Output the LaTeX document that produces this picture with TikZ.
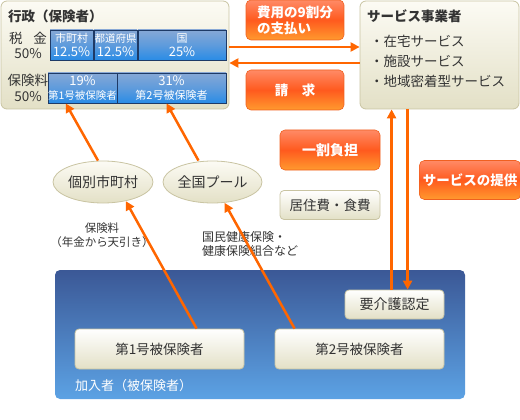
\documentclass[tikz,border=0pt]{standalone}
\usepackage{fontspec}
\setmainfont{Noto Sans CJK JP}
\usetikzlibrary{shapes.geometric,arrows.meta}
\definecolor{txt}{HTML}{333333}
\definecolor{arrowor}{HTML}{FF6600}
\definecolor{bgtop}{HTML}{FCFBF4}
\definecolor{bgbot}{HTML}{E3E0C6}
\definecolor{bgline}{HTML}{C9C4A2}
\definecolor{ortop}{HTML}{FF8A66}
\definecolor{ormid}{HTML}{FF5A1E}
\definecolor{orbot}{HTML}{FF9A2E}
\definecolor{orline}{HTML}{F06020}
\definecolor{celltop}{HTML}{86A8D6}
\definecolor{cellmid}{HTML}{5E9BDC}
\definecolor{cellbot}{HTML}{2A8CE6}
\definecolor{cellline}{HTML}{1E3A66}
\definecolor{bluetop}{HTML}{3B5896}
\definecolor{bluebot}{HTML}{5CA2E4}
\newcommand{\numsz}{\fontsize{13}{14}\selectfont}
\tikzset{
  panel/.style={draw=bgline, line width=0.8pt, rounded corners=6pt, top color=bgtop, bottom color=bgbot},
  beigebox/.style={draw=bgline, line width=0.8pt, rounded corners=4pt, top color=white, bottom color=bgbot, text=txt, font=\fontsize{13.5}{15}\selectfont},
  orangebox/.style={draw=orline, line width=0.6pt, rounded corners=5pt, top color=ortop, bottom color=orbot, middle color=ormid, text=white, font=\fontsize{13.5}{16}\selectfont\bfseries},
  cell/.style={draw=cellline, line width=0.8pt, top color=celltop, bottom color=cellbot, middle color=cellmid, text=white, align=center, inner sep=0pt, font=\fontsize{11}{14}\selectfont},
  oval/.style={ellipse, draw=bgline, line width=0.8pt, top color=bgtop, bottom color=bgbot, text=txt, font=\fontsize{14}{16}\selectfont, inner sep=0pt},
  arr/.style={draw=arrowor, line width=2.5pt, -{Triangle[length=9pt,width=9pt]}},
  lbl/.style={text=txt, inner sep=0pt},
}
\begin{document}
\begin{tikzpicture}[x=1pt,y=-1pt]
\useasboundingbox (0,0) rectangle (520,420);
% admin panel
\node[panel, minimum width=228pt, minimum height=108pt] (admin) at (115,55) {};
\node[lbl, anchor=west, font=\fontsize{13.5}{15}\selectfont\bfseries] (admt) at (8,16) {行政（保険者）};
\node[lbl, align=center, font=\fontsize{13.5}{15.5}\selectfont] (zei) at (28,45.5) {税\hspace{0.8em}金\\50\%};
\node[lbl, align=center, font=\fontsize{13.5}{15.5}\selectfont] (hok) at (28,88) {保険料\\50\%};
\node[cell, minimum width=43pt, minimum height=30pt] (c1) at (71.5,45) {市町村\\\numsz 12.5\%};
\node[cell, minimum width=43pt, minimum height=30pt, font=\fontsize{10.5}{14}\selectfont] (c2) at (115.5,45) {都道府県\\\numsz 12.5\%};
\node[cell, minimum width=88pt, minimum height=30pt] (c3) at (182,45) {国\\\numsz 25\%};
\node[cell, minimum width=65pt, minimum height=30pt] (c19) at (82.5,88) {{\numsz 19\%}\\\fontsize{10.5}{13}\selectfont 第1号被保険者};
\node[cell, minimum width=109pt, minimum height=30pt] (c31) at (171.5,88) {{\numsz 31\%}\\第2号被保険者};
% service provider
\node[panel, minimum width=159pt, minimum height=108pt] (serv) at (439.5,55) {};
\node[lbl, anchor=west, font=\fontsize{13.5}{15}\selectfont\bfseries] (servt) at (367,16) {サービス事業者};
\node[lbl, anchor=north west, align=left, font=\fontsize{13.5}{20}\selectfont] (servi) at (370,35) {・在宅サービス\\・施設サービス\\・地域密着型サービス};
% orange boxes
\node[orangebox, minimum width=98pt, minimum height=40pt, align=left] (pay) at (295,20) {費用の9割分\\の支払い};
\node[orangebox, minimum width=98pt, minimum height=40pt] (seik) at (295,90) {請\hspace{1em}求};
\node[orangebox, minimum width=100pt, minimum height=40pt, font=\fontsize{14}{16}\selectfont\bfseries] (ichi) at (330,150) {一割負担};
\node[orangebox, minimum width=100pt, minimum height=39pt] (teik) at (470,180) {サービスの提供};
\node[beigebox, minimum width=100pt, minimum height=29pt] (kyo) at (330,205) {居住費・食費};
% ovals
\node[oval, minimum width=100pt, minimum height=42pt] (kobetsu) at (103,182) {個別市町村};
\node[oval, minimum width=99pt, minimum height=42pt] (zenkoku) at (212.5,182) {全国プール};
% labels
\node[lbl, align=center, font=\fontsize{11.5}{13.5}\selectfont] (lab1) at (102,235) {保険料\\（年金から天引き）};
\node[lbl, anchor=north west, align=left, font=\fontsize{12}{14.5}\selectfont] (lab2) at (202,231) {国民健康保険・\\健康保険組合など};
% blue region
\node[draw=none, rounded corners=5pt, top color=bluetop, bottom color=bluebot, minimum width=410pt, minimum height=129pt] (blue) at (260,334.5) {};
\node[anchor=west, text=white, inner sep=0pt, font=\fontsize{13}{15}\selectfont] (kanyu) at (75,386) {加入者（被保険者）};
\node[beigebox, minimum width=99pt, minimum height=29pt, font=\fontsize{14}{15}\selectfont] (yokaigo) at (394.5,304.5) {要介護認定};
\node[beigebox, minimum width=169pt, minimum height=40pt] (h1) at (159.5,349) {第1号被保険者};
\node[beigebox, minimum width=169pt, minimum height=40pt] (h2) at (359.5,349) {第2号被保険者};
% arrows
\draw[arr] ([yshift=8pt]admin.east) -- ([yshift=8pt]serv.west);
\draw[arr] ([yshift=-8pt]serv.west) -- ([yshift=-8pt]admin.east);
\draw[arr] ([xshift=-5pt]kobetsu.north) -- ([xshift=18pt]c19.south west);
\draw[arr] ([xshift=-14pt]zenkoku.north) -- ([xshift=50pt]c31.south west);
\draw[arr] ([xshift=122pt]h1.north west) -- (kobetsu.-40);
\draw[arr] ([xshift=20pt]h2.north west) -- (zenkoku.-60);
\coordinate (up1) at ([xshift=47pt]yokaigo.north west);
\coordinate (dn1) at ([xshift=63pt]yokaigo.north west);
\draw[arr] (up1) -- (up1 |- serv.south);
\draw[arr] (dn1 |- serv.south) -- (dn1);
\end{tikzpicture}
\end{document}
